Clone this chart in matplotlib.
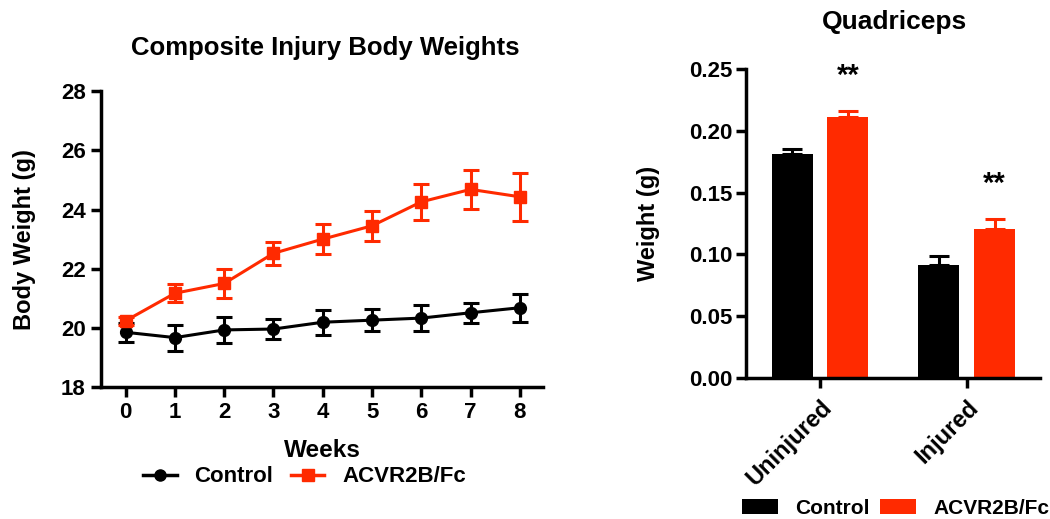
import matplotlib
matplotlib.use("Agg")
import matplotlib.pyplot as plt
from matplotlib.lines import Line2D
from matplotlib.patches import Patch
import numpy as np

plt.rcParams['font.family'] = ['Liberation Sans', 'DejaVu Sans']
plt.rcParams['font.weight'] = 'bold'

RED = '#ff2a00'

weeks = [0, 1, 2, 3, 4, 5, 6, 7, 8]
control_mean = [19.85, 19.67, 19.93, 19.96, 20.19, 20.26, 20.33, 20.51, 20.68]
control_sem = [0.32, 0.44, 0.43, 0.33, 0.43, 0.38, 0.43, 0.34, 0.48]
acvr_mean = [20.24, 21.17, 21.50, 22.52, 23.00, 23.45, 24.26, 24.68, 24.43]
acvr_sem = [0.14, 0.31, 0.48, 0.39, 0.52, 0.51, 0.60, 0.66, 0.81]

groups = ['Uninjured', 'Injured']
quad_control = [0.181, 0.0913]
quad_control_sem = [0.004, 0.0076]
quad_acvr = [0.211, 0.121]
quad_acvr_sem = [0.005, 0.0078]
sig_labels = ['**', '**']

fig = plt.figure(figsize=(10.5, 5.19), dpi=100)

# ---------- Left: line chart ----------
ax = fig.add_axes([0.0962, 0.2543, 0.421, 0.570])
ax.errorbar(weeks, control_mean, yerr=control_sem, color='black', marker='o',
            markersize=8.5, linewidth=2.2, elinewidth=2.2, capsize=5.5, capthick=2.2,
            zorder=3)
ax.errorbar(weeks, acvr_mean, yerr=acvr_sem, color=RED, marker='s',
            markersize=9, linewidth=2.2, elinewidth=2.2, capsize=5.5, capthick=2.2,
            zorder=4)
ax.set_xlim(-0.5, 8.47)
ax.set_ylim(18, 28)
ax.set_xticks(weeks)
ax.set_yticks([18, 20, 22, 24, 26, 28])
for s in ['top', 'right']:
    ax.spines[s].set_visible(False)
for s in ['left', 'bottom']:
    ax.spines[s].set_linewidth(2.5)
ax.tick_params(axis='both', width=2.5, length=7, labelsize=16, direction='out', pad=4)
for lab in ax.get_xticklabels() + ax.get_yticklabels():
    lab.set_fontweight('bold')
ax.set_xlabel('Weeks', fontsize=17.5, fontweight='bold', labelpad=11)
ax.set_ylabel('Body Weight (g)', fontsize=17, fontweight='bold', labelpad=18)
fig.text(0.3095, 0.907, 'Composite Injury Body Weights', fontsize=18.5,
         fontweight='bold', ha='center', va='center')
handles = [Line2D([0], [0], color='black', marker='o', markersize=8, linewidth=2.5),
           Line2D([0], [0], color=RED, marker='s', markersize=9, linewidth=2.5)]
leg = fig.legend(handles, ['Control', 'ACVR2B/Fc'], loc='center',
                 bbox_to_anchor=(0.29, 0.081), ncol=2, frameon=False, fontsize=16,
                 handlelength=1.5, columnspacing=0.8, handletextpad=0.8)
for t in leg.get_texts():
    t.set_fontweight('bold')

# ---------- Right: bar chart ----------
ax2 = fig.add_axes([0.7105, 0.2717, 0.280, 0.595])
x = np.arange(len(groups))
off = 0.19
w = 0.28
ax2.bar(x - off, quad_control, width=w, color='black', zorder=2)
ax2.errorbar(x - off, quad_control, yerr=[[0, 0], quad_control_sem], fmt='none',
             ecolor='black', elinewidth=2.2, capsize=7.5, capthick=2.2, zorder=1)
ax2.bar(x + off, quad_acvr, width=w, color=RED, zorder=2)
ax2.errorbar(x + off, quad_acvr, yerr=[[0, 0], quad_acvr_sem], fmt='none',
             ecolor=RED, elinewidth=2.2, capsize=7.5, capthick=2.2, zorder=1)
for xi, yv, e, s in zip(x + off, quad_acvr, quad_acvr_sem, sig_labels):
    ax2.text(xi, yv + e + 0.0285, s, ha='center', va='center', fontsize=21,
             fontweight='bold')
ax2.set_xlim(-0.505, 1.5)
ax2.set_ylim(0, 0.25)
ax2.set_yticks([0, 0.05, 0.10, 0.15, 0.20, 0.25])
ax2.set_yticklabels(['0.00', '0.05', '0.10', '0.15', '0.20', '0.25'])
ax2.set_xticks(x)
ax2.set_xticklabels(groups, rotation=45, ha='right', rotation_mode='anchor')
for s in ['top', 'right']:
    ax2.spines[s].set_visible(False)
for s in ['left', 'bottom']:
    ax2.spines[s].set_linewidth(2.5)
ax2.tick_params(axis='both', width=2.5, length=7, labelsize=16, direction='out', pad=3)
ax2.tick_params(axis='x', labelsize=17, pad=6)
for lab in ax2.get_xticklabels() + ax2.get_yticklabels():
    lab.set_fontweight('bold')
ax2.set_ylabel('Weight (g)', fontsize=17, fontweight='bold', labelpad=21)
fig.text(0.852, 0.958, 'Quadriceps', fontsize=19, fontweight='bold',
         ha='center', va='center')
phandles = [Patch(facecolor='black'), Patch(facecolor=RED)]
leg2 = fig.legend(phandles, ['Control', 'ACVR2B/Fc'], loc='center',
                  bbox_to_anchor=(0.853, 0.021), ncol=2, frameon=False, fontsize=15,
                  handlelength=1.73, handleheight=0.7, columnspacing=0.48,
                  handletextpad=0.82, borderpad=0.1)
for t in leg2.get_texts():
    t.set_fontweight('bold')

fig.savefig('out.png', dpi=100)
